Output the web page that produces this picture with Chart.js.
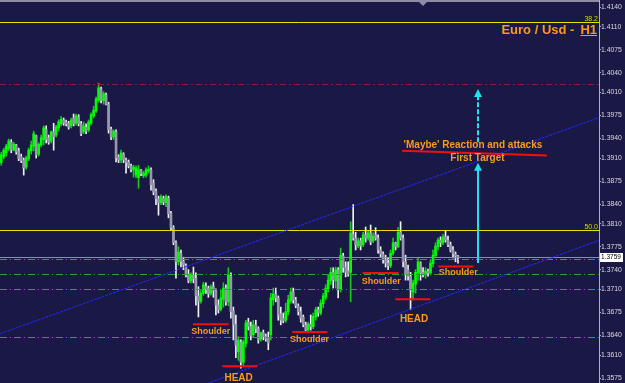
<!DOCTYPE html>
<html><head><meta charset="utf-8">
<script src="https://cdn.jsdelivr.net/npm/chart.js@4.4.1/dist/chart.umd.min.js"></script>
<style>html,body{margin:0;padding:0;background:#1a1945;overflow:hidden}canvas{display:block}</style>
</head><body>
<canvas id="c" width="625" height="383"></canvas>
<script>
// ---- EUR/USD H1 candles ----
const opens = [
1.3903,1.3912,1.3918,1.3924,1.3934,1.3922,1.3930,1.3921,1.3912,1.3907,
1.3896,1.3909,1.3921,1.3928,1.3944,1.3916,1.3930,1.3938,1.3954,1.3941,
1.3936,1.3950,1.3945,1.3956,1.3962,1.3968,1.3965,1.3963,1.3959,1.3971,
1.3963,1.3973,1.3962,1.3950,1.3957,1.3953,1.3963,1.3974,1.3982,1.3998,
1.4015,1.3997,1.4006,1.3992,1.3954,1.3942,1.3950,1.3912,1.3907,1.3916,
1.3907,1.3904,1.3898,1.3892,1.3884,1.3880,1.3892,1.3883,1.3884,1.3890,
1.3892,1.3872,1.3860,1.3848,1.3842,1.3849,1.3842,1.3849,1.3826,1.3804,
1.3781,1.3752,1.3765,1.3753,1.3746,1.3733,1.3723,1.3732,1.3727,1.3700,
1.3692,1.3704,1.3715,1.3712,1.3704,1.3714,1.3708,1.3686,1.3680,1.3695,
1.3712,1.3691,1.3730,1.3677,1.3657,1.3615,1.3630,1.3599,1.3628,1.3660,
1.3654,1.3641,1.3656,1.3650,1.3634,1.3644,1.3639,1.3636,1.3641,1.3694,
1.3703,1.3697,1.3673,1.3666,1.3663,1.3676,1.3692,1.3706,1.3694,1.3685,
1.3676,1.3668,1.3656,1.3648,1.3657,1.3653,1.3668,1.3679,1.3674,1.3688,
1.3698,1.3711,1.3723,1.3736,1.3723,1.3740,1.3711,1.3761,1.3744,1.3738,
1.3736,1.3794,1.3788,1.3776,1.3784,1.3778,1.3793,1.3788,1.3796,1.3784,
1.3793,1.3788,1.3770,1.3764,1.3755,1.3750,1.3746,1.3765,1.3781,1.3775,
1.3797,1.3788,1.3752,1.3740,1.3730,1.3706,1.3718,1.3735,1.3750,1.3736,
1.3732,1.3738,1.3735,1.3749,1.3761,1.3775,1.3785,1.3781,1.3790,1.3785,
1.3778,1.3770,1.3764,1.3761];
const highs = [
1.3919,1.3925,1.3931,1.3939,1.3938,1.3934,1.3931,1.3925,1.3916,1.3910,
1.3913,1.3925,1.3936,1.3951,1.3945,1.3933,1.3945,1.3959,1.3959,1.3945,
1.3951,1.3963,1.3960,1.3968,1.3973,1.3971,1.3968,1.3966,1.3971,1.3977,
1.3977,1.3976,1.3966,1.3965,1.3962,1.3968,1.3979,1.3989,1.4003,1.4024,
1.4018,1.4011,1.4009,1.3995,1.3957,1.3953,1.3953,1.3915,1.3922,1.3918,
1.3910,1.3907,1.3901,1.3899,1.3898,1.3899,1.3893,1.3890,1.3895,1.3898,
1.3895,1.3877,1.3863,1.3852,1.3854,1.3852,1.3854,1.3852,1.3829,1.3807,
1.3784,1.3775,1.3770,1.3759,1.3749,1.3740,1.3735,1.3744,1.3735,1.3714,
1.3708,1.3721,1.3720,1.3715,1.3717,1.3721,1.3711,1.3694,1.3709,1.3720,
1.3717,1.3743,1.3735,1.3683,1.3671,1.3638,1.3633,1.3633,1.3663,1.3666,
1.3660,1.3663,1.3663,1.3653,1.3645,1.3648,1.3642,1.3645,1.3704,1.3712,
1.3712,1.3700,1.3683,1.3674,1.3689,1.3701,1.3712,1.3712,1.3698,1.3688,
1.3683,1.3671,1.3660,1.3660,1.3671,1.3674,1.3683,1.3683,1.3694,1.3704,
1.3717,1.3732,1.3743,1.3743,1.3744,1.3743,1.3773,1.3765,1.3752,1.3752,
1.3813,1.3839,1.3797,1.3788,1.3788,1.3797,1.3805,1.3799,1.3808,1.3796,
1.3804,1.3793,1.3775,1.3767,1.3762,1.3758,1.3770,1.3788,1.3782,1.3804,
1.3813,1.3793,1.3762,1.3747,1.3736,1.3724,1.3740,1.3758,1.3752,1.3743,
1.3743,1.3741,1.3755,1.3770,1.3781,1.3788,1.3790,1.3794,1.3800,1.3791,
1.3782,1.3775,1.3767,1.3762];
const lows = [
1.3899,1.3909,1.3913,1.3921,1.3918,1.3921,1.3916,1.3906,1.3903,1.3884,
1.3893,1.3906,1.3916,1.3921,1.3910,1.3913,1.3927,1.3930,1.3933,1.3931,
1.3933,1.3922,1.3942,1.3951,1.3959,1.3960,1.3959,1.3954,1.3956,1.3959,
1.3960,1.3959,1.3944,1.3947,1.3947,1.3950,1.3960,1.3971,1.3979,1.3995,
1.3994,1.3992,1.3991,1.3948,1.3938,1.3938,1.3904,1.3903,1.3903,1.3903,
1.3887,1.3895,1.3889,1.3881,1.3880,1.3864,1.3883,1.3880,1.3881,1.3887,
1.3861,1.3854,1.3839,1.3823,1.3839,1.3839,1.3836,1.3819,1.3800,1.3778,
1.3727,1.3747,1.3744,1.3740,1.3729,1.3720,1.3720,1.3720,1.3686,1.3668,
1.3689,1.3701,1.3704,1.3698,1.3701,1.3698,1.3671,1.3674,1.3677,1.3683,
1.3686,1.3685,1.3666,1.3633,1.3606,1.3602,1.3590,1.3592,1.3622,1.3648,
1.3633,1.3638,1.3644,1.3628,1.3631,1.3633,1.3631,1.3618,1.3633,1.3686,
1.3691,1.3663,1.3656,1.3659,1.3660,1.3671,1.3689,1.3689,1.3682,1.3671,
1.3660,1.3653,1.3645,1.3645,1.3648,1.3650,1.3663,1.3669,1.3671,1.3682,
1.3694,1.3706,1.3717,1.3712,1.3712,1.3697,1.3706,1.3736,1.3729,1.3730,
1.3691,1.3785,1.3770,1.3773,1.3770,1.3775,1.3782,1.3785,1.3778,1.3781,
1.3785,1.3765,1.3759,1.3750,1.3744,1.3740,1.3743,1.3762,1.3770,1.3773,
1.3785,1.3744,1.3724,1.3724,1.3679,1.3694,1.3704,1.3724,1.3724,1.3729,
1.3727,1.3730,1.3732,1.3744,1.3759,1.3770,1.3775,1.3778,1.3782,1.3775,
1.3767,1.3758,1.3752,1.3750];
const closes = [
1.3915,1.3922,1.3928,1.3936,1.3922,1.3931,1.3919,1.3909,1.3906,1.3895,
1.3910,1.3922,1.3930,1.3947,1.3915,1.3931,1.3941,1.3956,1.3938,1.3934,
1.3950,1.3942,1.3957,1.3965,1.3969,1.3963,1.3962,1.3957,1.3968,1.3962,
1.3974,1.3962,1.3947,1.3959,1.3951,1.3965,1.3976,1.3983,1.4000,1.4017,
1.3998,1.4008,1.3992,1.3953,1.3942,1.3951,1.3910,1.3907,1.3918,1.3907,
1.3903,1.3898,1.3892,1.3896,1.3895,1.3892,1.3886,1.3887,1.3892,1.3893,
1.3869,1.3858,1.3848,1.3842,1.3851,1.3843,1.3851,1.3825,1.3804,1.3781,
1.3752,1.3767,1.3752,1.3747,1.3732,1.3723,1.3732,1.3726,1.3700,1.3692,
1.3704,1.3717,1.3711,1.3703,1.3714,1.3708,1.3686,1.3679,1.3697,1.3712,
1.3691,1.3732,1.3676,1.3656,1.3625,1.3633,1.3599,1.3630,1.3659,1.3653,
1.3639,1.3656,1.3650,1.3633,1.3644,1.3638,1.3634,1.3628,1.3697,1.3703,
1.3697,1.3671,1.3663,1.3662,1.3676,1.3694,1.3706,1.3694,1.3685,1.3676,
1.3666,1.3656,1.3648,1.3657,1.3653,1.3669,1.3679,1.3674,1.3689,1.3700,
1.3712,1.3724,1.3736,1.3724,1.3740,1.3709,1.3762,1.3743,1.3736,1.3733,
1.3796,1.3788,1.3778,1.3784,1.3776,1.3793,1.3788,1.3796,1.3782,1.3791,
1.3788,1.3770,1.3764,1.3755,1.3750,1.3746,1.3765,1.3781,1.3775,1.3797,
1.3788,1.3752,1.3732,1.3730,1.3709,1.3720,1.3736,1.3752,1.3735,1.3732,
1.3738,1.3735,1.3750,1.3762,1.3776,1.3785,1.3781,1.3790,1.3785,1.3778,
1.3770,1.3764,1.3761,1.3759];

const slotCount = 240;                      // hourly slots on the time axis (incl. chart shift)
const yTicks = [1.4140,1.4110,1.4075,1.4040,1.4010,1.3975,1.3940,1.3910,1.3875,
                1.3840,1.3810,1.3775,1.3740,1.3710,1.3675,1.3640,1.3610,1.3575];
const bidPrice = 1.3759;
const fibPrices = [1.4117, 1.3800];
const fibNames = ['38.2', '50.0'];
const resistancePrices = [1.4023];
const supportPrices = [1.3756, 1.3733, 1.3711, 1.3638];
// trend lines: [slot, price] anchors
const upperTrend = [[0, 1.3643], [180, 1.3890]];
const lowerTrend = [[100, 1.3591], [180, 1.3702]];
// red marker segments (shoulders / heads / target)
const segStart = [76.8, 88.6, 116.6, 144.8, 157.9, 175.2, 160.6];
const segEnd   = [91.1, 102.6, 130.7, 159.2, 171.9, 189.2, 218.6];
const segP1    = [1.3657, 1.3593, 1.3645, 1.3735, 1.3695, 1.3745, 1.3921];
const segP2    = [1.3657, 1.3593, 1.3645, 1.3735, 1.3695, 1.3745, 1.3914];
// text annotations
const noteTexts = ['Shoulder','HEAD','Shoulder','Shoulder','HEAD','Shoulder',"'Maybe' Reaction and attacks",'First Target'];
const noteSlot  = [83.9, 95.1, 123.5, 152.3, 165.4, 183.1, 189.0, 190.8];
const notePrice = [1.3642, 1.3570, 1.3630, 1.3718, 1.3660, 1.3732, 1.3925, 1.3905];
// cyan projection arrows
const arrowSlot = 191.1;
const arrowSolid = [1.3750, 1.3903];
const arrowDashed = [1.3934, 1.4015];
const chartShiftSlot = 169;

const labels = Array.from({length: slotCount}, (_, i) => i);
const wicks = highs.map((h, i) => [lows[i], h]);
const bodies = opens.map((o, i) => [o, closes[i]]);
const isBull = opens.map((o, i) => closes[i] >= o);

const BG = '#1a1945';
const ORANGE = '#fb9a1e';

const overlay = {
  id: 'overlay',
  beforeDraw(chart) {
    const c = chart.ctx;
    c.save(); c.fillStyle = BG; c.fillRect(0, 0, chart.width, chart.height); c.restore();
  },
  afterDatasetsDraw(chart) {
    const c = chart.ctx, a = chart.chartArea, xs = chart.scales.x, ys = chart.scales.y;
    const X = v => xs.getPixelForValue(v), Y = v => ys.getPixelForValue(v);
    c.save();
    c.beginPath(); c.rect(a.left, a.top, a.right - a.left, a.bottom - a.top); c.clip();
    const hline = (p, color, dash, w) => {
      const y = Math.round(Y(p)) + 0.5;
      c.beginPath(); c.setLineDash(dash); c.lineWidth = w || 1; c.strokeStyle = color;
      c.moveTo(a.left, y); c.lineTo(a.right, y); c.stroke();
    };
    // bid line
    hline(bidPrice, '#8e8ea8', []);
    supportPrices.forEach(p => hline(p, '#2fa035', [7, 3, 1, 3]));
    resistancePrices.forEach(p => hline(p, '#9c1838', [6, 3, 2, 3]));
    fibPrices.forEach((p, i) => {
      hline(p, '#e4e400', []);
      c.setLineDash([]);
      c.fillStyle = '#d8d800'; c.font = '7px "Liberation Sans"';
      c.textAlign = 'right'; c.textBaseline = 'alphabetic';
      c.fillText(fibNames[i], a.right - 1, Math.round(Y(p)) - 1);
    });
    // trend lines
    const trend = (t) => {
      const x1 = X(t[0][0]), y1 = Y(t[0][1]), x2 = X(t[1][0]), y2 = Y(t[1][1]);
      const m = (y2 - y1) / (x2 - x1);
      c.beginPath(); c.setLineDash([3, 1]); c.lineWidth = 1; c.strokeStyle = '#2626ff';
      c.moveTo(a.left, y1 + m * (a.left - x1)); c.lineTo(a.right, y1 + m * (a.right - x1)); c.stroke();
    };
    trend(upperTrend); trend(lowerTrend);
    // red segments
    c.setLineDash([]);
    segStart.forEach((s, i) => {
      c.beginPath(); c.lineWidth = 2; c.strokeStyle = '#f01010';
      c.moveTo(X(s), Y(segP1[i])); c.lineTo(X(segEnd[i]), Y(segP2[i])); c.stroke();
    });
    // arrows
    const arrow = (pFrom, pTo, dash) => {
      const x = Math.round(X(arrowSlot)), yb = Y(pFrom), yt = Y(pTo);
      c.strokeStyle = '#22e0f0'; c.fillStyle = '#22e0f0'; c.lineWidth = 2;
      c.beginPath(); c.setLineDash(dash); c.moveTo(x, yb); c.lineTo(x, yt + 7); c.stroke();
      c.setLineDash([]);
      c.beginPath(); c.moveTo(x, yt); c.lineTo(x - 4, yt + 8); c.lineTo(x + 4, yt + 8); c.closePath(); c.fill();
    };
    arrow(arrowSolid[0], arrowSolid[1], []);
    arrow(arrowDashed[0], arrowDashed[1], [5, 2]);
    // notes
    c.fillStyle = ORANGE; c.textAlign = 'center'; c.textBaseline = 'alphabetic';
    noteTexts.forEach((t, i) => {
      c.font = (t === 'Shoulder' ? 'bold 9px' : 'bold 10px') + ' "Liberation Sans"';
      c.fillText(t, X(noteSlot[i]), Y(notePrice[i]));
    });
    // title
    c.font = 'bold 13px "Liberation Sans"'; c.textAlign = 'right';
    const hw = c.measureText('H1').width;
    c.fillText('H1', a.right - 2, 34);
    c.fillText('Euro / Usd -', a.right - 2 - hw - 6, 34);
    c.fillRect(a.right - 2 - hw, 35, hw, 1);
    c.restore();
    // top band + chart shift marker
    c.save();
    c.fillStyle = '#8c8ca6'; c.fillRect(0, 0, a.right, 2);
    const sx = Math.round(X(chartShiftSlot));
    c.beginPath(); c.moveTo(sx - 4, 2); c.lineTo(sx + 4, 2); c.lineTo(sx, 6); c.closePath(); c.fill();
    // current price tag
    const by = Math.round(Y(bidPrice));
    c.fillStyle = '#ffffff'; c.fillRect(a.right + 1, by - 4, 23, 9);
    c.fillStyle = '#000000'; c.font = '6.5px "Liberation Sans"'; c.textAlign = 'left'; c.textBaseline = 'middle';
    c.fillText(bidPrice.toFixed(4), a.right + 2, by + 0.5);
    c.restore();
  }
};

new Chart(document.getElementById('c'), {
  type: 'bar',
  data: {
    labels,
    datasets: [
      { data: wicks, backgroundColor: isBull.map(b => b ? '#18c818' : '#f0f0f8'), barThickness: 1, grouped: false, order: 2 },
      { data: bodies, backgroundColor: isBull.map(b => b ? '#00ff00' : '#9898ac'), barThickness: 2, minBarLength: 1, grouped: false, order: 1 }
    ]
  },
  options: {
    responsive: false, animation: false, devicePixelRatio: 1,
    layout: { padding: 0 },
    plugins: { legend: { display: false }, tooltip: { enabled: false } },
    scales: {
      x: { display: false, offset: true, grid: { display: false } },
      y: {
        position: 'right', bounds: 'data', min: 1.35674, max: 1.41507,
        afterBuildTicks: s => { s.ticks = yTicks.map(v => ({ value: v })); },
        afterFit: s => { s.width = 26; s.paddingTop = 0; s.paddingBottom = 0; },
        ticks: { autoSkip: false, padding: 0, color: '#dadae4', font: { family: 'Liberation Sans', size: 6.8 },
                 callback: v => Number(v).toFixed(4) },
        grid: { drawOnChartArea: false, drawTicks: true, tickLength: 2, color: '#b0b0c4' },
        border: { display: true, color: '#b0b0c4', width: 1 }
      }
    }
  },
  plugins: [overlay]
});
</script>
</body></html>
